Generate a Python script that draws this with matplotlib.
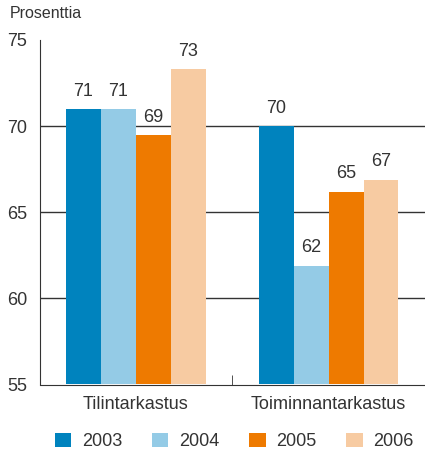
import matplotlib.pyplot as plt
import numpy as np
from matplotlib.patches import Patch

# Data
categories = ["Tilintarkastus", "Toiminnantarkastus"]
years = ["2003", "2004", "2005", "2006"]
values_2003 = [71.0, 70.0]
values_2004 = [71.0, 61.9]
values_2005 = [69.5, 66.2]
values_2006 = [73.3, 66.9]
labels_2003 = ["71", "70"]
labels_2004 = ["71", "62"]
labels_2005 = ["69", "65"]
labels_2006 = ["73", "67"]
y_ticks = [55, 60, 65, 70, 75]

colors = ["#0083BE", "#94CBE6", "#EE7A00", "#F7CBA2"]
text_color = "#333333"

plt.rcParams["font.family"] = ["Liberation Sans", "DejaVu Sans"]

fig = plt.figure(figsize=(4.25, 4.51), dpi=100)
ax = fig.add_axes([39.5 / 425, 1 - 384.5 / 451, 1 - 39.5 / 425, (384.5 - 40) / 451])

series = [values_2003, values_2004, values_2005, values_2006]
series_labels = [labels_2003, labels_2004, labels_2005, labels_2006]
x = np.arange(len(categories))
width = 0.181

for i, (vals, labs) in enumerate(zip(series, series_labels)):
    pos = x + (i - 1.5) * width
    ax.bar(pos, [v - 55 for v in vals], width, bottom=55, color=colors[i], zorder=2)
    for p, v, lab in zip(pos, vals, labs):
        ax.annotate(lab, (p, v), xytext=(0, 9.5), textcoords="offset points",
                    ha="center", va="baseline", fontsize=13, color=text_color)

ax.set_xlim(-0.5, 1.5)
ax.set_ylim(55, 75)
ax.set_yticks(y_ticks)
ax.set_yticklabels([str(t) for t in y_ticks], fontsize=13, color=text_color)
ax.tick_params(axis="y", length=0, pad=9)
for t in [60, 65, 70]:
    ax.axhline(t, color="#333333", lw=1, zorder=1)

ax.set_xticks(x)
ax.set_xticklabels(categories, fontsize=13, color=text_color)
ax.tick_params(axis="x", length=0, pad=8)
ax.set_xticks([0.5], minor=True)
ax.tick_params(axis="x", which="minor", direction="in", length=7, color="#333333")

for s in ["top", "right"]:
    ax.spines[s].set_visible(False)
ax.spines["left"].set_color("#333333")
ax.spines["bottom"].set_color("#333333")

fig.text(10 / 425, 1 - 14 / 451, "Prosenttia", fontsize=11.5, color=text_color, va="center")

handles = [Patch(facecolor=c, edgecolor="none") for c in colors]
fig.legend(handles, years, loc="center left", bbox_to_anchor=(55 / 425, 1 - 441.5 / 451),
           ncol=4, frameon=False, fontsize=13, handlelength=0.9, handleheight=0.85,
           handletextpad=0.6, columnspacing=1.65, borderpad=0, borderaxespad=0,
           labelcolor=text_color)

fig.savefig("out.png", dpi=100)
